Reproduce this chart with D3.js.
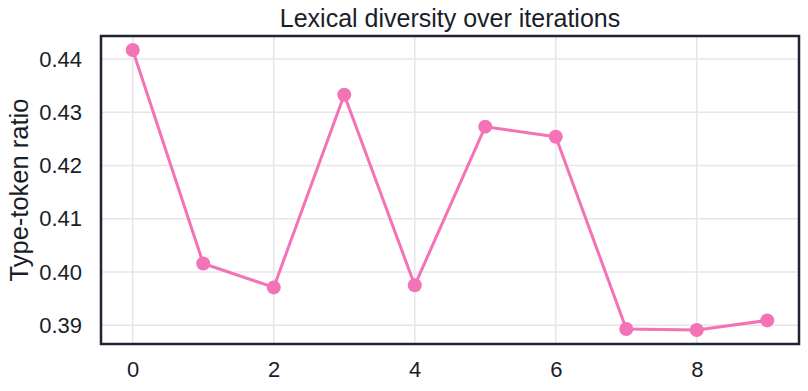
<!DOCTYPE html>
<html>
<head>
<meta charset="utf-8">
<script src="https://cdn.jsdelivr.net/npm/d3@7"></script>
<style>
  html, body { margin: 0; padding: 0; background: #fff; }
  svg { display: block; font-family: "Liberation Sans", Arial, sans-serif; }
</style>
</head>
<body>
<svg id="chart" width="808" height="391"></svg>
<script>
const iterations = [0, 1, 2, 3, 4, 5, 6, 7, 8, 9];
const ttr = [0.4417, 0.4016, 0.3971, 0.4333, 0.3975, 0.4273, 0.4254, 0.3893, 0.3891, 0.3909];
const xTicks = [0, 2, 4, 6, 8];
const yTicks = [0.39, 0.40, 0.41, 0.42, 0.43, 0.44];
const title = "Lexical diversity over iterations";
const yLabel = "Type-token ratio";

const W = 808, H = 391;
const m = { left: 101, right: 9, top: 36, bottom: 47 };
const svg = d3.select("#chart");

const xMin = d3.min(iterations), xMax = d3.max(iterations);
const xPad = (xMax - xMin) * 0.05;
const yMin = d3.min(ttr), yMax = d3.max(ttr);
const yPad = (yMax - yMin) * 0.05;

const x = d3.scaleLinear().domain([xMin - xPad, xMax + xPad]).range([m.left, W - m.right]);
const y = d3.scaleLinear().domain([yMin - yPad, yMax + yPad]).range([H - m.bottom, m.top]);

const textColor = "#1a1d29";
const gridColor = "#e6e6ec";
const spineColor = "#1f2332";
const pink = "#f472b6";

// grid
const g = svg.append("g");
g.selectAll(".vg").data(xTicks).join("line")
  .attr("x1", d => x(d)).attr("x2", d => x(d))
  .attr("y1", m.top).attr("y2", H - m.bottom)
  .attr("stroke", gridColor).attr("stroke-width", 1.6);
g.selectAll(".hg").data(yTicks).join("line")
  .attr("y1", d => y(d)).attr("y2", d => y(d))
  .attr("x1", m.left).attr("x2", W - m.right)
  .attr("stroke", gridColor).attr("stroke-width", 1.6);

// axes (labels only)
const xAxis = d3.axisBottom(x).tickValues(xTicks).tickSize(0).tickPadding(17).tickFormat(d3.format("d"));
const yAxis = d3.axisLeft(y).tickValues(yTicks).tickSize(0).tickPadding(19).tickFormat(d3.format(".2f"));
const gx = svg.append("g").attr("transform", `translate(0,${H - m.bottom})`).call(xAxis);
const gy = svg.append("g").attr("transform", `translate(${m.left},0)`).call(yAxis);
[gx, gy].forEach(a => {
  a.select(".domain").remove();
  a.selectAll("text").attr("fill", textColor).attr("font-size", 22)
    .attr("font-family", "Liberation Sans, Arial, sans-serif");
});

// line
const line = d3.line().x((d, i) => x(iterations[i])).y(d => y(d));
svg.append("path").datum(ttr)
  .attr("d", line).attr("fill", "none")
  .attr("stroke", pink).attr("stroke-width", 3).attr("stroke-linejoin", "round");
svg.selectAll(".pt").data(ttr).join("circle")
  .attr("cx", (d, i) => x(iterations[i])).attr("cy", d => y(d))
  .attr("r", 7).attr("fill", pink);

// spines
svg.append("rect")
  .attr("x", m.left).attr("y", m.top)
  .attr("width", W - m.left - m.right).attr("height", H - m.top - m.bottom)
  .attr("fill", "none").attr("stroke", spineColor).attr("stroke-width", 2.5);

// title
svg.append("text").attr("x", (m.left + W - m.right) / 2).attr("y", 27)
  .attr("text-anchor", "middle").attr("fill", textColor).attr("font-size", 25)
  .text(title);

// y label
svg.append("text").attr("transform", `translate(28,${(m.top + H - m.bottom) / 2}) rotate(-90)`)
  .attr("text-anchor", "middle").attr("fill", textColor).attr("font-size", 25.5)
  .text(yLabel);
</script>
</body>
</html>
